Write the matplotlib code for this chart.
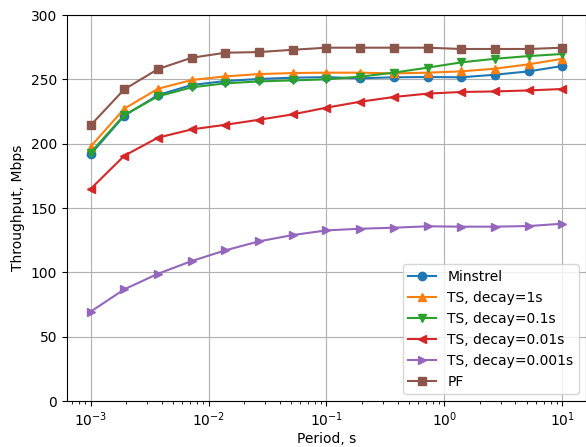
import matplotlib
matplotlib.use("Agg")
import matplotlib.pyplot as plt

# periods, s
period = [0.001, 0.00193, 0.00373, 0.0072, 0.0139, 0.0268, 0.0518, 0.1,
          0.193, 0.373, 0.72, 1.39, 2.68, 5.18, 10.0]

# throughput, Mbps
minstrel = [191.7, 221.7, 237.8, 245.6, 248.7, 250.3, 251.3, 251.7,
            250.8, 251.6, 251.8, 251.6, 253.6, 256.2, 260.4]
ts_1 = [197.7, 227.2, 242.7, 249.5, 252.3, 254.1, 254.9, 255.2,
        255.2, 254.6, 255.2, 256.2, 258.3, 261.7, 266.0]
ts_01 = [193.0, 222.3, 236.8, 243.8, 246.9, 248.4, 249.2, 250.0,
         252.1, 255.2, 259.1, 263.2, 266.0, 268.1, 269.7]
ts_001 = [164.8, 190.6, 204.7, 211.1, 214.7, 218.6, 222.8, 228.0,
          232.6, 236.3, 238.9, 240.2, 240.6, 241.4, 242.5]
ts_0001 = [69.4, 86.8, 98.9, 108.8, 117.1, 124.1, 129.0, 132.6,
           133.9, 134.7, 135.8, 135.5, 135.5, 136.0, 137.8]
pf = [214.3, 242.2, 258.0, 266.8, 270.7, 271.2, 273.0, 274.6,
      274.6, 274.6, 274.6, 273.6, 273.6, 273.6, 274.6]

plt.rcParams['font.size'] = 10

fig = plt.figure(figsize=(5.86, 4.47), dpi=100)
ax = fig.add_axes([0.1143, 0.1029, 0.8857, 0.8635])

ax.plot(period, minstrel, marker='o', label='Minstrel')
ax.plot(period, ts_1, marker='^', label='TS, decay=1s')
ax.plot(period, ts_01, marker='v', label='TS, decay=0.1s')
ax.plot(period, ts_001, marker='<', label='TS, decay=0.01s')
ax.plot(period, ts_0001, marker='>', label='TS, decay=0.001s')
ax.plot(period, pf, marker='s', label='PF')

ax.set_xscale('log')
ax.set_ylim(0, 300)
ax.grid(True)
ax.set_xlabel('Period, s', labelpad=2)
ax.set_ylabel('Throughput, Mbps')
ax.legend(loc='lower right')

fig.savefig('out.png', dpi=100)
